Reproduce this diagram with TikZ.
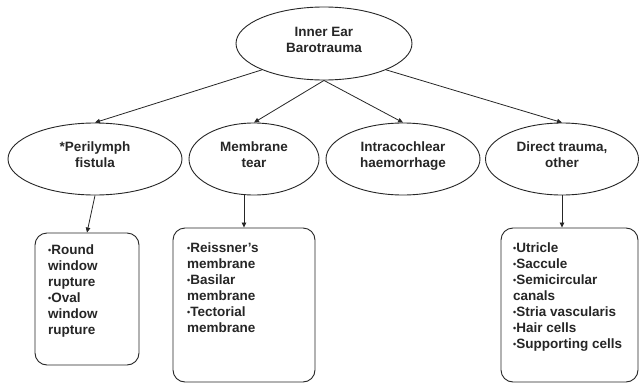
\documentclass[tikz,border=0pt]{standalone}
\usepackage{fontspec}
\setmainfont{Liberation Sans}
\usetikzlibrary{arrows.meta,calc,shapes.geometric}
\newcommand\bul{\raisebox{1.2pt}{\fontsize{9}{9}\selectfont •}}
\begin{document}
\begin{tikzpicture}[x=1pt,y=-1pt,
  every node/.style={font=\bfseries\fontsize{13.5}{16}\selectfont, text=black!85},
  oval/.style={draw=black!85, ellipse, inner sep=0pt, align=center, line width=0.9pt, text depth=8pt},
  listbox/.style={draw=black!85, rectangle, rounded corners=12pt, inner sep=0pt, line width=0.9pt},
  listtext/.style={anchor=north west, inner sep=0pt, align=left},
  conn/.style={draw=black!85, line width=0.8pt, -{Triangle[length=5pt,width=4.5pt]}}]
\useasboundingbox[fill=white] (0,0) rectangle (640,383);
% top
\node[oval, minimum width=176pt, minimum height=73pt] (top) at (324,43.5) {Inner Ear\\Barotrauma};
% level 2
\node[oval, minimum width=174pt, minimum height=72pt] (e1) at (95,159) {*Perilymph\\fistula};
\node[oval, minimum width=130pt, minimum height=72pt] (e2) at (254,159) {Membrane\\tear};
\node[oval, minimum width=154pt, minimum height=72pt] (e3) at (403,159) {Intracochlear\\haemorrhage};
\node[oval, minimum width=153pt, minimum height=72pt] (e4) at (562,159) {Direct trauma,\\other};
% boxes
\node[listbox, minimum width=104pt, minimum height=132pt] (b1) at (87,299) {};
\node[listbox, minimum width=142pt, minimum height=154pt] (b2) at (244,305) {};
\node[listbox, minimum width=137pt, minimum height=154pt] (b3) at (569.5,305) {};
\node[listtext] (b1t) at (48,245) {\bul Round\\window\\rupture\\\bul Oval\\window\\rupture};
\node[listtext] (b2t) at (187,243) {\bul Reissner's\\membrane\\\bul Basilar\\membrane\\\bul Tectorial\\membrane};
\node[listtext] (b3t) at (513,243) {\bul Utricle\\\bul Saccule\\\bul Semicircular\\canals\\\bul Stria vascularis\\\bul Hair cells\\\bul Supporting cells};
% connectors
\draw[conn] (top.203) -- (e1.north);
\draw[conn] (top.south) -- (e2.north);
\draw[conn] (top.south) -- (e3.north);
\draw[conn] (top.337) -- (e4.north);
\draw[conn] (e1.south) -- (b1.north);
\draw[conn] (e2.south -| b2.north) -- (b2.north);
\draw[conn] (e4.south) -- (e4.south |- b3.north);
\end{tikzpicture}
\end{document}
